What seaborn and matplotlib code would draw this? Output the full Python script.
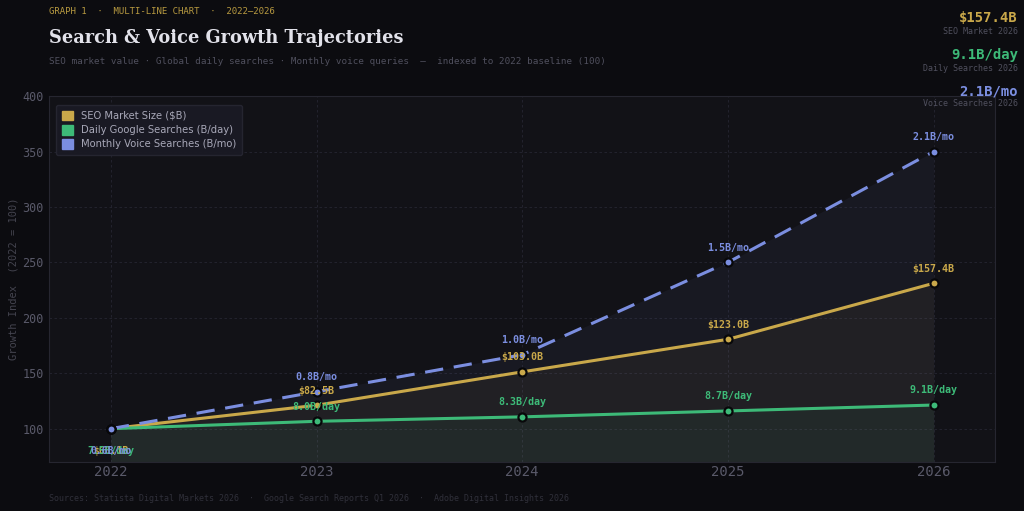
import matplotlib.pyplot as plt
import pandas as pd
import seaborn as sns
from matplotlib.patches import Patch

# Data (raw values, indexed to 2022 = 100)
years = [2022, 2023, 2024, 2025, 2026]
seo_market = [68.1, 82.5, 103.0, 123.0, 157.4]      # $B
daily_searches = [7.5, 8.0, 8.3, 8.7, 9.1]          # B/day
voice_searches = [0.6, 0.8, 1.0, 1.5, 2.1]          # B/mo

series_names = ['SEO Market Size ($B)', 'Daily Google Searches (B/day)', 'Monthly Voice Searches (B/mo)']
colors = ['#c9a84a', '#3dba78', '#7b8ee0']
fmt = [lambda v: f'${v:.1f}B', lambda v: f'{v:.1f}B/day', lambda v: f'{v:.1f}B/mo']

rows = []
for name, vals, f in zip(series_names, [seo_market, daily_searches, voice_searches], fmt):
    for y, v in zip(years, vals):
        rows.append({'year': y, 'series': name, 'raw': v, 'index': v / vals[0] * 100, 'label': f(v)})
df = pd.DataFrame(rows)

BG = '#0c0c10'
AX_BG = '#121217'
MONO = 'DejaVu Sans Mono'

sns.set_style('dark')
plt.rcParams['font.family'] = ['DejaVu Sans']

fig = plt.figure(figsize=(10.24, 5.11), dpi=100, facecolor=BG)
ax = fig.add_axes([0.048, 0.096, 0.924, 0.716])
ax.set_facecolor(AX_BG)

# filled areas under each line
for name, c in zip(series_names, colors):
    d = df[df['series'] == name]
    ax.fill_between(d['year'], d['index'], 70, color=c, alpha=0.06, zorder=1, linewidth=0)

# lines, markers and value labels
for name, c in zip(series_names, colors):
    d = df[df['series'] == name]
    ls = '--' if 'Voice' in name else '-'
    sns.lineplot(data=d, x='year', y='index', ax=ax, color=c, linewidth=2.2,
                 linestyle=ls, zorder=3, legend=False)
    if ls == '--':
        ax.lines[-1].set_dashes([6, 3.5])
    ax.scatter(d['year'], d['index'], s=34, color=c, edgecolor='#08080a',
               linewidth=1.6, zorder=4)
    for _, r in d.iterrows():
        if r['year'] == 2022:
            # baseline labels sit below the start point (they overlap in the original too)
            ax.text(r['year'], 80, r['label'], color=c, fontsize=7, fontweight='bold',
                    family=MONO, ha='center', va='center', zorder=5)
        else:
            ax.annotate(r['label'], (r['year'], r['index']), xytext=(0, 7),
                        textcoords='offset points', color=c, fontsize=7.2,
                        fontweight='bold', family=MONO, ha='center', va='bottom', zorder=5)

ax.set_xlim(2021.7, 2026.3)
ax.set_ylim(70, 400)
ax.set_xticks(years)
ax.set_yticks(range(100, 401, 50))
ax.tick_params(axis='x', colors='#5a5a6a', labelsize=10, length=0, pad=2)
ax.tick_params(axis='y', colors='#5a5a6a', labelsize=8.5, length=0, pad=4)
for lab in ax.get_xticklabels() + ax.get_yticklabels():
    lab.set_family(MONO)
ax.grid(True, color='#262632', linestyle=(0, (3, 3)), linewidth=0.6)
ax.set_axisbelow(True)
for sp in ax.spines.values():
    sp.set_color('#262630')
    sp.set_linewidth(0.8)
ax.set_xlabel('')
ax.set_ylabel('Growth Index  (2022 = 100)', color='#44444f', fontsize=7.5, family=MONO, labelpad=3)

handles = [Patch(facecolor=c, edgecolor=c, label=n) for n, c in zip(series_names, colors)]
leg = ax.legend(handles=handles, loc='upper left', fontsize=7.2, frameon=True,
                facecolor='#1a1a24', edgecolor='#262632', labelcolor='#a8a8b8',
                handlelength=1.1, handleheight=1.1, borderpad=0.6, labelspacing=0.4,
                bbox_to_anchor=(0.002, 0.99))
leg.get_frame().set_alpha(0.95)

# header
fig.text(0.048, 0.978, 'GRAPH 1  ·  MULTI-LINE CHART  ·  2022–2026', color='#b89a40',
         fontsize=6.5, family=MONO, va='center')
fig.text(0.048, 0.925, 'Search & Voice Growth Trajectories', color='#e2e2ea',
         fontsize=12.8, family='DejaVu Serif', fontweight='bold', va='center')
fig.text(0.048, 0.879, 'SEO market value · Global daily searches · Monthly voice queries  —  indexed to 2022 baseline (100)',
         color='#50505e', fontsize=6.7, family=MONO, va='center')

# right-side stats
stats = [('$157.4B', 'SEO Market 2026', colors[0], 0.965, 0.938),
         ('9.1B/day', 'Daily Searches 2026', colors[1], 0.893, 0.866),
         ('2.1B/mo', 'Voice Searches 2026', colors[2], 0.821, 0.797)]
for big, small, c, yb, ys in stats:
    fig.text(0.994, yb, big, color=c, fontsize=10, fontweight='bold', family=MONO, ha='right', va='center')
    fig.text(0.994, ys, small, color='#50505e', fontsize=6, family=MONO, ha='right', va='center')

fig.text(0.048, 0.024, 'Sources: Statista Digital Markets 2026  ·  Google Search Reports Q1 2026  ·  Adobe Digital Insights 2026',
         color='#30303a', fontsize=6, family=MONO, va='center')

fig.savefig('out.png', dpi=100, facecolor=BG)
